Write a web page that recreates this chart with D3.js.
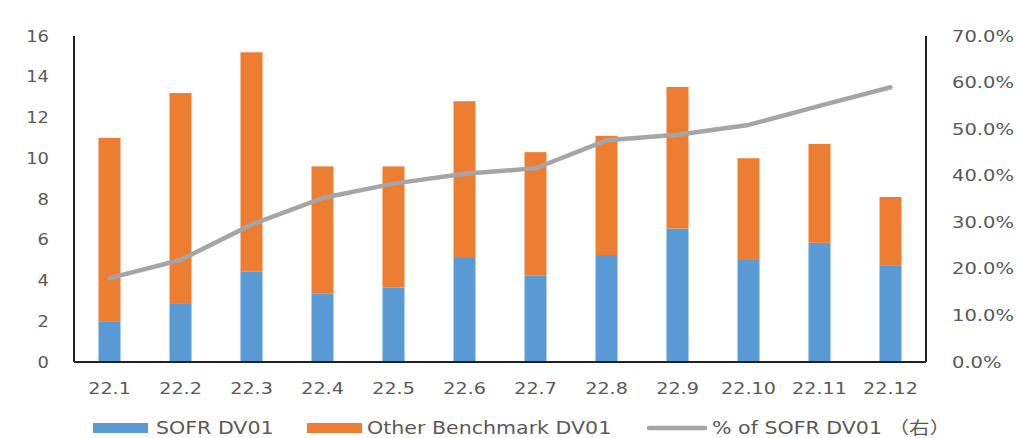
<!DOCTYPE html>
<html>
<head>
<meta charset="utf-8">
<script src="https://cdn.jsdelivr.net/npm/d3@7"></script>
<style>
  html, body { margin: 0; padding: 0; background: #fff; }
  svg { display: block; }
  text { font-family: "DejaVu Sans", "Noto Sans CJK SC", sans-serif; fill: #595959; transform-box: fill-box; }
</style>
</head>
<body>
<svg id="chart" width="1017" height="438"></svg>
<script>
// Monthly DV01 by benchmark (2022) and SOFR share
const months = ["22.1", "22.2", "22.3", "22.4", "22.5", "22.6", "22.7", "22.8", "22.9", "22.10", "22.11", "22.12"];
const sofrDV01 = [1.97, 2.85, 4.45, 3.35, 3.65, 5.15, 4.25, 5.25, 6.55, 5.05, 5.85, 4.75];
const otherDV01 = [9.03, 10.35, 10.75, 6.25, 5.95, 7.65, 6.05, 5.85, 6.95, 4.95, 4.85, 3.35];
const sofrShare = [0.180, 0.219, 0.295, 0.352, 0.383, 0.404, 0.416, 0.476, 0.488, 0.509, 0.550, 0.590];
const leftTicks = [0, 2, 4, 6, 8, 10, 12, 14, 16];
const rightTicks = [0, 0.1, 0.2, 0.3, 0.4, 0.5, 0.6, 0.7];
const seriesNames = ["SOFR DV01", "Other Benchmark DV01", "% of SOFR DV01 （右）"];

const colors = { sofr: "#5B9BD5", other: "#ED7D31", share: "#A5A5A5" };

const svg = d3.select("#chart");
const m = { left: 74, right: 926, top: 36, bottom: 362 };

const xc = d3.scaleBand().domain(months).range([m.left, m.right]);
const yL = d3.scaleLinear().domain([0, 16]).range([m.bottom, m.top]);
const yR = d3.scaleLinear().domain([0, 0.7]).range([m.bottom, m.top]);
const barW = 22;

// wide, slightly stretched label type
function styleText(sel, size, sx, origin) {
  sel.style("font-family", "'DejaVu Sans', 'Noto Sans CJK SC', sans-serif")
    .style("font-size", size + "px")
    .style("transform-origin", origin)
    .style("transform", `scaleX(${sx})`)
    .attr("fill", "#595959");
}

// stacked bars
const rows = months.map((mo, i) => ({ month: mo, sofr: sofrDV01[i], other: otherDV01[i] }));
const stack = d3.stack().keys(["sofr", "other"])(rows);
svg.append("g").selectAll("g").data(stack).join("g")
  .attr("fill", d => colors[d.key])
  .selectAll("rect").data(d => d).join("rect")
  .attr("x", d => xc(d.data.month) + xc.bandwidth() / 2 - barW / 2)
  .attr("width", barW)
  .attr("y", d => yL(d[1]))
  .attr("height", d => yL(d[0]) - yL(d[1]));

// share line on the right axis
const line = d3.line()
  .x((d, i) => xc(months[i]) + xc.bandwidth() / 2)
  .y(d => yR(d));
svg.append("path").datum(sofrShare)
  .attr("d", line)
  .attr("fill", "none")
  .attr("stroke", colors.share)
  .attr("stroke-width", 4.5)
  .attr("stroke-linecap", "round")
  .attr("stroke-linejoin", "round");

// axes
const axL = svg.append("g").attr("transform", `translate(${m.left},0)`)
  .call(d3.axisLeft(yL).tickValues(leftTicks).tickSize(0).tickPadding(25));
const axR = svg.append("g").attr("transform", `translate(${m.right},0)`)
  .call(d3.axisRight(yR).tickValues(rightTicks).tickSize(0).tickPadding(26).tickFormat(d3.format(".1%")));
const axB = svg.append("g").attr("transform", `translate(0,${m.bottom})`)
  .call(d3.axisBottom(xc).tickSize(0).tickPadding(20));
[axL, axR, axB].forEach(a => a.select(".domain").attr("stroke", "#222").attr("stroke-width", 2));
axL.select(".domain").attr("d", `M0,${m.top}V${m.bottom}`);
axR.select(".domain").attr("d", `M0,${m.top}V${m.bottom}`);
axB.select(".domain").attr("d", `M${m.left},0H${m.right}`);
styleText(axL.selectAll("text"), 16, 1.12, "right center");
styleText(axR.selectAll("text"), 16, 1.22, "left center");
styleText(axB.selectAll("text"), 16.5, 1.16, "center center");

// legend
const lg = svg.append("g");
const lgY = 428;
lg.append("rect").attr("x", 93).attr("y", lgY - 5).attr("width", 55).attr("height", 10).attr("fill", colors.sofr);
lg.append("rect").attr("x", 307).attr("y", lgY - 5).attr("width", 55).attr("height", 10).attr("fill", colors.other);
lg.append("line").attr("x1", 649).attr("x2", 705).attr("y1", lgY).attr("y2", lgY)
  .attr("stroke", colors.share).attr("stroke-width", 4.5).attr("stroke-linecap", "round");
const lt = lg.selectAll("text.lg").data([
  { t: seriesNames[0], x: 156 },
  { t: seriesNames[1], x: 367 },
  { t: seriesNames[2], x: 712 }
]).join("text").attr("class", "lg")
  .attr("x", d => d.x).attr("y", lgY + 6)
  .text(d => d.t);
styleText(lt, 17, 1.21, "left center");
</script>
</body>
</html>
